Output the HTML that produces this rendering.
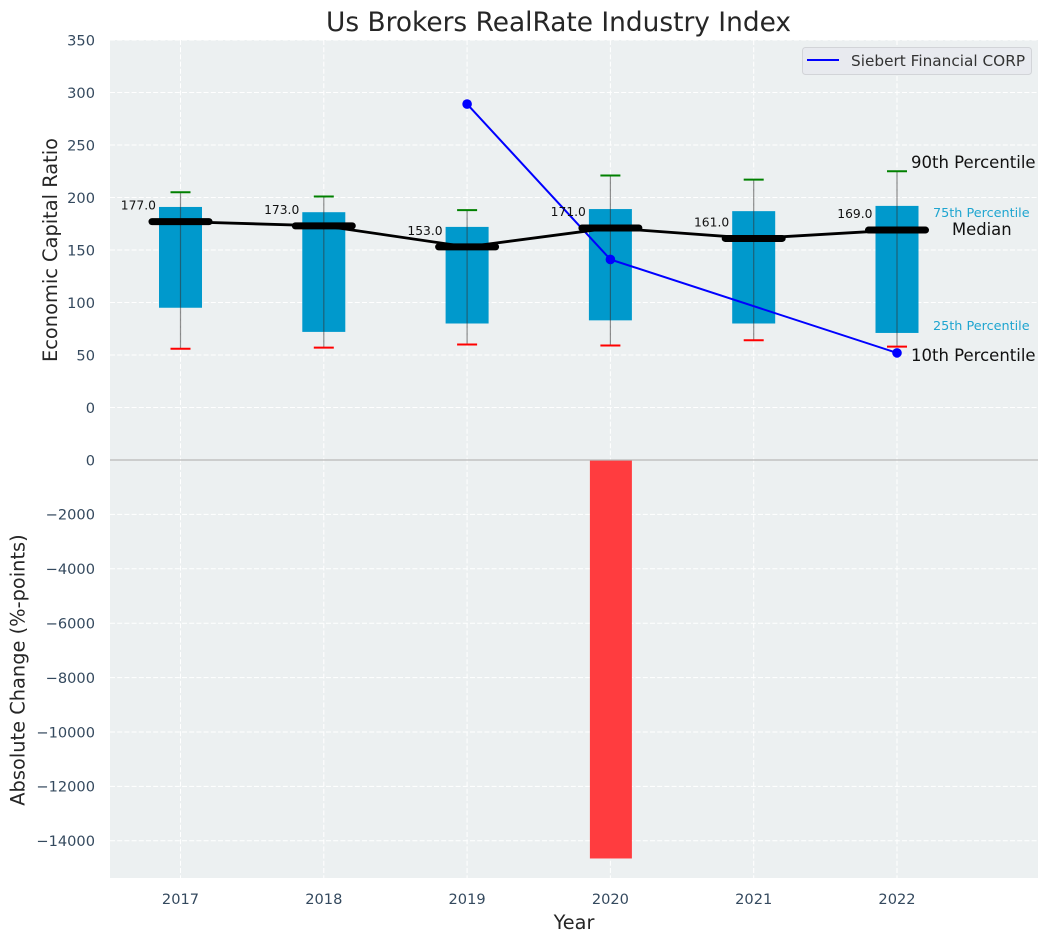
<!DOCTYPE html>
<html lang="en">
<head>
<meta charset="utf-8">
<title>Us Brokers RealRate Industry Index</title>
<style>
html,body{margin:0;padding:0;background:#fff;}
svg{display:block;font-family:"DejaVu Sans","Liberation Sans",sans-serif;}
</style>
</head>
<body>
<svg id="chart" xmlns="http://www.w3.org/2000/svg" width="1048" height="942" viewBox="0 0 1048 942">
  <rect x="110" y="40" width="928" height="419.5" fill="#ecf0f1"/>
  <rect x="110" y="459.5" width="928" height="418.5" fill="#ecf0f1"/>
  <g id="grid"></g>
  <g id="boxes"></g>
  <g id="whiskers"></g>
  <g id="peer"></g>
  <g id="medians"></g>
  <g id="labels"></g>
  <g id="changes"></g>
  <line x1="110" x2="1038" y1="460" y2="460" stroke="#b8b8b8" stroke-width="1.2"/>
  <g id="ticks"></g>

  <text x="558.5" y="31" text-anchor="middle" font-size="26.4px" fill="#262626">Us Brokers RealRate Industry Index</text>
  <text x="574" y="929" text-anchor="middle" font-size="19.3px" fill="#262626">Year</text>
  <text transform="translate(57 250) rotate(-90)" text-anchor="middle" font-size="19.4px" fill="#262626">Economic Capital Ratio</text>
  <text transform="translate(24.5 670) rotate(-90)" text-anchor="middle" font-size="19.4px" fill="#262626">Absolute Change (%-points)</text>

  <text x="911" y="168" font-size="16.5px" fill="#111">90th Percentile</text>
  <text x="933" y="217" font-size="12.8px" fill="#1fa5d0">75th Percentile</text>
  <text x="952" y="235" font-size="16.4px" fill="#111">Median</text>
  <text x="933" y="330" font-size="12.8px" fill="#1fa5d0">25th Percentile</text>
  <text x="911" y="361" font-size="16.5px" fill="#111">10th Percentile</text>

  <g>
    <rect x="802.5" y="47.5" width="229" height="27" rx="3" fill="#e8eaef" stroke="#d2d4d8" stroke-width="1"/>
    <line x1="807" x2="839" y1="60" y2="60" stroke="#0000ff" stroke-width="2"/>
    <text x="851" y="66" font-size="15.3px" fill="#333">Siebert Financial CORP</text>
  </g>
</svg>
<script>
// Chart data
var years = [2017, 2018, 2019, 2020, 2021, 2022];
var p90 = [205, 201, 188, 221, 217, 225];
var p75 = [191, 186, 172, 189, 187, 192];
var medianValues = [177, 173, 153, 171, 161, 169];
var p25 = [95, 72, 80, 83, 80, 71];
var p10 = [56, 57, 60, 59, 64, 58];
var peerYears = [2019, 2020, 2022];
var peerValues = [289, 141, 52];
var changeYears = [2020];
var changeValues = [-14650];
var topTicks = [0, 50, 100, 150, 200, 250, 300, 350];
var bottomTicks = [0, -2000, -4000, -6000, -8000, -10000, -12000, -14000];

// Axis functions
function xPos(year) { return 180.5 + (year - 2017) * 143.3; }
function yTop(v) { return 407.5 - v * 1.05; }
function yBottom(v) { return 460 - v * 0.0272; }

var NS = 'http://www.w3.org/2000/svg';
function make(parent, tag, attrs, text) {
  var el = document.createElementNS(NS, tag);
  for (var k in attrs) { el.setAttribute(k, attrs[k]); }
  if (text !== undefined) { el.textContent = text; }
  parent.appendChild(el);
  return el;
}
var gGrid = document.getElementById('grid');
var gBoxes = document.getElementById('boxes');
var gWhiskers = document.getElementById('whiskers');
var gPeer = document.getElementById('peer');
var gMedians = document.getElementById('medians');
var gLabels = document.getElementById('labels');
var gChanges = document.getElementById('changes');
var gTicks = document.getElementById('ticks');
var el;

// Grid lines and tick labels
topTicks.forEach(function (t) {
  el = make(gGrid, 'line', {x1: 110, x2: 1038, y1: yTop(t), y2: yTop(t), stroke: '#fff', 'stroke-width': 1, 'stroke-dasharray': '5 2.2'});
  
  
  el = make(gTicks, 'text', {x: 95, y: yTop(t) + 5.3, 'text-anchor': 'end', 'font-size': '14.6px', fill: '#34495e'}, String(t));
  
  
});
bottomTicks.forEach(function (t) {
  el = make(gGrid, 'line', {x1: 110, x2: 1038, y1: yBottom(t), y2: yBottom(t), stroke: '#fff', 'stroke-width': 1, 'stroke-dasharray': '5 2.2'});
  
  
  el = make(gTicks, 'text', {x: 95, y: yBottom(t) + 5.3, 'text-anchor': 'end', 'font-size': '14.6px', fill: '#34495e'}, String(t).replace('-', '\u2212'));
  
  
});
years.forEach(function (yr) {
  el = make(gGrid, 'line', {x1: xPos(yr), x2: xPos(yr), y1: 40, y2: 878, stroke: '#fff', 'stroke-width': 1, 'stroke-dasharray': '5 2.2'});
  
  
  el = make(gTicks, 'text', {x: xPos(yr), y: 904, 'text-anchor': 'middle', 'font-size': '14.6px', fill: '#34495e'}, String(yr));
  
  
});

// Boxes and whiskers
years.forEach(function (yr, i) {
  var x = xPos(yr);
  el = make(gBoxes, 'rect', {x: x - 21.5, y: yTop(p75[i]), width: 43, height: yTop(p25[i]) - yTop(p75[i]), fill: '#0099cc'});
  
  
  el = make(gWhiskers, 'line', {x1: x, x2: x, y1: yTop(p90[i]), y2: yTop(p10[i]), stroke: '#333', 'stroke-opacity': 0.55, 'stroke-width': 1.2});
  
  
  el = make(gWhiskers, 'line', {x1: x - 10, x2: x + 10, y1: yTop(p90[i]), y2: yTop(p90[i]), stroke: '#008000', 'stroke-width': 2});
  
  
  el = make(gWhiskers, 'line', {x1: x - 10, x2: x + 10, y1: yTop(p10[i]), y2: yTop(p10[i]), stroke: '#ff0000', 'stroke-width': 2});
  
  
});

// Peer series
el = make(gPeer, 'polyline', {
  points: peerYears.map(function (yr, i) { return xPos(yr) + ',' + yTop(peerValues[i]); }).join(' '),
  fill: 'none', stroke: '#0000ff', 'stroke-width': 2
});


peerYears.forEach(function (yr, i) {
  el = make(gPeer, 'circle', {cx: xPos(yr), cy: yTop(peerValues[i]), r: 4.8, fill: '#0000ff'});
  
  
});

// Median series
el = make(gMedians, 'polyline', {
  points: years.map(function (yr, i) { return xPos(yr) + ',' + yTop(medianValues[i]); }).join(' '),
  fill: 'none', stroke: '#000', 'stroke-width': 2.8
});


years.forEach(function (yr, i) {
  var x = xPos(yr), y = yTop(medianValues[i]);
  el = make(gMedians, 'line', {x1: x - 28.5, x2: x + 28.5, y1: y, y2: y, stroke: '#000', 'stroke-width': 7, 'stroke-linecap': 'round'});
  
  
  el = make(gLabels, 'text', {x: x - 24.5, y: y - 12, 'text-anchor': 'end', 'font-size': '12.3px', fill: '#111'}, medianValues[i].toFixed(1));
  
  
});

// Absolute change bars
changeYears.forEach(function (yr, i) {
  el = make(gChanges, 'rect', {x: xPos(yr) - 20.5, y: yBottom(0), width: 42, height: yBottom(changeValues[i]) - yBottom(0), fill: '#ff3c3f'});
  
  
});
</script>
</body>
</html>
